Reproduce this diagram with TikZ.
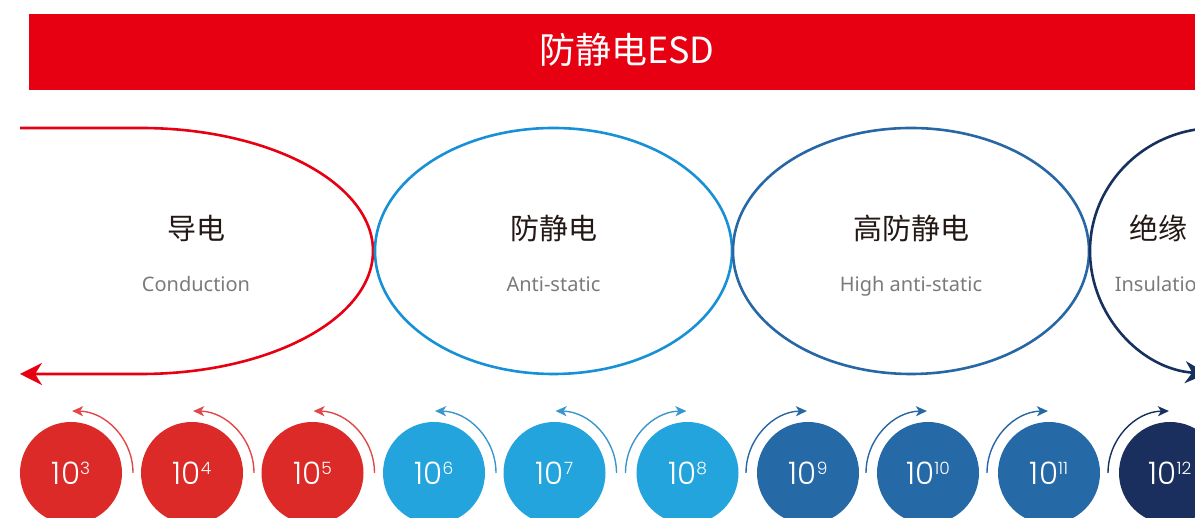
\documentclass[tikz,border=0pt]{standalone}
\usepackage{fontspec}
\setmainfont{Noto Sans}
\newfontfamily\cjk{Noto Sans CJK SC}
\newfontfamily\pop{Poppins Light}
\usetikzlibrary{arrows.meta,shapes.geometric}
\definecolor{esdred}{HTML}{E60012}
\definecolor{cred}{HTML}{DC2A28}
\definecolor{ared}{HTML}{E2474A}
\definecolor{lblue}{HTML}{1890D6}
\definecolor{cblue}{HTML}{23A4DD}
\definecolor{ablue}{HTML}{3A96CC}
\definecolor{mblue}{HTML}{2767A5}
\definecolor{cmblue}{HTML}{2569A6}
\definecolor{navy}{HTML}{17315F}
\definecolor{cnavy}{HTML}{1A2F5E}
\definecolor{txtdark}{HTML}{231815}
\definecolor{txtgray}{HTML}{7A7A7A}
\tikzset{
  bigline/.style={line width=2.6pt},
  zhlabel/.style={font=\cjk\fontsize{29}{29}\selectfont, text=txtdark, inner sep=0pt},
  enlabel/.style={font=\fontsize{20}{20}\selectfont, text=txtgray, inner sep=0pt, anchor=base},
  valcircle/.style={circle, minimum size=102pt, inner sep=0pt, text=white, font=\pop\fontsize{31}{31}\selectfont},
  turn/.style={line width=1.4pt, -{Stealth[length=11pt,width=10pt,inset=3pt]}},
  bigtip/.style={-{Stealth[length=22pt,width=22pt,inset=7pt]}}
}
\newcommand{\pw}[1]{10\raisebox{9.5pt}{\fontsize{17}{17}\selectfont #1}}
\begin{document}
\begin{tikzpicture}[x=1pt,y=1pt]
\useasboundingbox (0,0) rectangle (1195,518);
\clip (0,0) rectangle (1195,518);
% banner
\node[fill=esdred, minimum width=1180pt, minimum height=76pt, inner sep=0pt, anchor=south west] (banner) at (29,428) {};
\node[text=white, font=\cjk\fontsize{36}{36}\selectfont, inner sep=0pt] (title) at (627,468) {防静电ESD};
% big curves
\coordinate (rtop) at (20,390);
\coordinate (rend) at (20,144);
\draw[bigline, esdred, bigtip] (rtop) -- (141,390) arc[start angle=90, end angle=-90, x radius=232, y radius=123] -- (rend);
\node[draw=lblue, bigline, ellipse, minimum width=357pt, minimum height=246pt, inner sep=0pt] (e2) at (553.5,267) {};
\node[draw=mblue, bigline, ellipse, minimum width=356pt, minimum height=246pt, inner sep=0pt] (e3) at (911,267) {};
\coordinate (e4) at (1216,267);
\draw[bigline, navy, bigtip] ([yshift=123pt]e4) arc[start angle=90, end angle=266, x radius=126, y radius=123];
% labels
\node[zhlabel] (z1) at (196,289.5) {导电};
\node[enlabel] (n1) at (196,226) {Conduction};
\node[zhlabel] (z2) at (553.5,289.5) {防静电};
\node[enlabel] (n2) at (553.5,226) {Anti-static};
\node[zhlabel] (z3) at (911,289.5) {高防静电};
\node[enlabel] (n3) at (911,226) {High anti-static};
\node[zhlabel] (z4) at (1158,289.5) {绝缘};
\node[enlabel] (n4) at (1162,226) {Insulation};
% value circles
\node[valcircle, fill=cred] (c3) at (71,45) {\pw{3}};
\node[valcircle, fill=cred] (c4) at (192,45) {\pw{4}};
\node[valcircle, fill=cred] (c5) at (312.5,45) {\pw{5}};
\node[valcircle, fill=cblue] (c6) at (434,45) {\pw{6}};
\node[valcircle, fill=cblue] (c7) at (554.5,45) {\pw{7}};
\node[valcircle, fill=cblue] (c8) at (687.5,45) {\pw{8}};
\node[valcircle, fill=cmblue] (c9) at (808,45) {\pw{9}};
\node[valcircle, fill=cmblue] (c10) at (928,45) {\pw{10}};
\node[valcircle, fill=cmblue] (c11) at (1049,45) {\pw{11}};
\node[valcircle, fill=cnavy] (c12) at (1170,45) {\pw{12}};
% turning arrows
\foreach \c/\col in {c3/ared,c4/ared,c5/ared,c6/ablue,c7/ablue}{
  \draw[turn, \col] ([xshift=62pt]\c.center) arc[start angle=0, end angle=89, radius=62];
}
\foreach \c/\col in {c8/ablue,c9/mblue,c10/mblue,c11/mblue,c12/navy}{
  \draw[turn, \col] ([xshift=-62pt]\c.center) arc[start angle=180, end angle=91, radius=62];
}
\end{tikzpicture}
\end{document}
